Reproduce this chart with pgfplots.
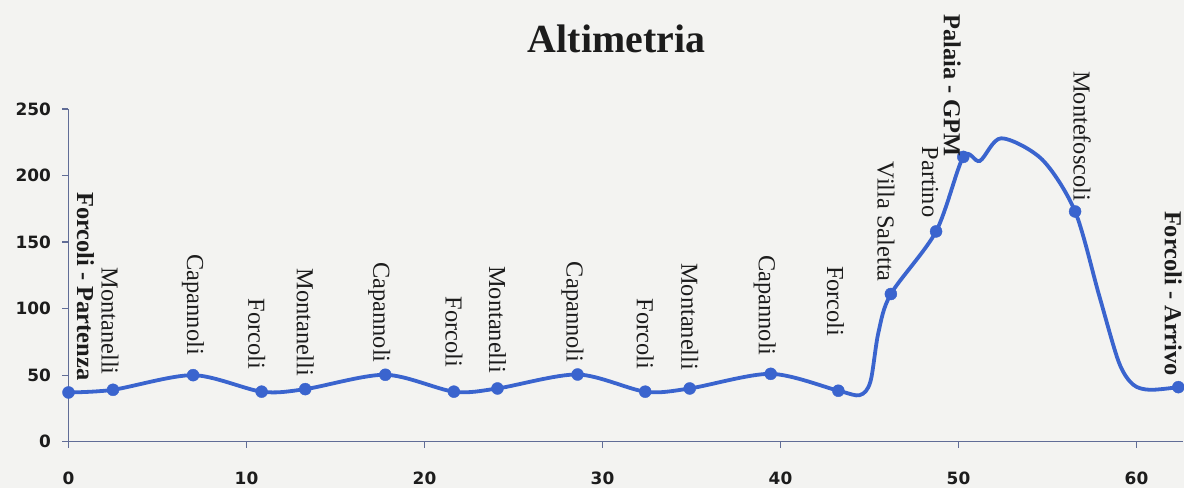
\documentclass[border=0pt]{standalone}
\usepackage{pgfplots}
\usepackage{pgfplotstable}
\pgfplotsset{compat=1.18}
\usepackage{fontspec}
\setmainfont{Liberation Serif}
\newfontfamily\tickfont{DejaVu Sans}

\definecolor{lineblue}{RGB}{58,100,206}
\definecolor{axiscol}{RGB}{96,108,150}
\definecolor{bgcol}{RGB}{243,243,241}
\definecolor{txt}{RGB}{28,28,28}

% elevation profile (km, m)
\pgfplotstableread{
x y
0 37
2.5 39
7.0 50
10.85 37.6
13.3 39.5
17.8 50.3
21.65 37.6
24.1 40
28.6 50.5
32.4 37.6
34.9 40
39.45 51
43.25 38.3
44.45 35
45.05 45
45.5 82
46.2 111
48.74 158
50.27 214
51.2 211
52.4 228
54.7 212
56.55 173
57.9 110
59.0 60
59.8 43
60.75 39
62.35 41
}\profile

% named points: dx = horizontal shift of label, gap = space below label (bp)
\pgfplotstableread[col sep=comma]{
x,y,dx,gap,label
0,37,17,12,\textbf{Forcoli - Partenza}
2.5,39,-3,15,Montanelli
7.0,50,0,20,Capannoli
10.85,37.6,-5,22,Forcoli
13.3,39.5,0,13,Montanelli
17.8,50.3,-6,12,Capannoli
21.65,37.6,0,24,Forcoli
24.1,40,0,15,Montanelli
28.6,50.5,-5,12,Capannoli
32.4,37.6,0,22,Forcoli
34.9,40,0,18,Montanelli
39.45,51,-6,18,Capannoli
43.25,38.3,-3,54,Forcoli
46.2,111,-5,12,Villa Saletta
48.74,158,-6,14,Partino
50.27,214,-11,0,\textbf{Palaia - GPM}
56.55,173,7,10,Montefoscoli
62.35,41,-5,11,\textbf{Forcoli - Arrivo}
}\stations

\begin{document}
\begin{tikzpicture}
\fill[bgcol] (-68.5bp,-46.3bp) rectangle (1115.5bp,441.7bp);
\begin{axis}[
    scale only axis,
    width=1114.3bp, height=332.7bp,
    xmin=0, xmax=62.6, ymin=0, ymax=250,
    clip=false,
    axis x line=bottom, axis y line=left,
    axis line style={-, draw=axiscol, line width=1.3bp},
    tick style={draw=axiscol, line width=1.3bp},
    tick align=outside, major tick length=6bp,
    xtick={0,10,...,60}, ytick={0,50,...,250},
    /pgf/number format/assume math mode=true,
    ticklabel style={font=\tickfont\bfseries\fontsize{17}{19}\selectfont, text=txt},
    xticklabel style={yshift=-21bp},
    yticklabel style={xshift=-8bp},
]
\addplot[smooth, tension=0.5, no markers, draw=lineblue, line width=3.8bp]
    table[x=x, y=y] {\profile};
\addplot[only marks, mark=*, mark size=6bp,
    mark options={fill=lineblue, draw=lineblue},
    point meta=explicit symbolic,
    visualization depends on={\thisrow{dx}\as\dx},
    visualization depends on={\thisrow{gap}\as\gap},
    nodes near coords,
    every node near coord/.style={xshift=\dx bp, yshift=\gap bp, rotate=-90,
        anchor=east, inner sep=0pt, text=txt,
        font=\fontsize{24.5}{26}\selectfont},
    ] table[x=x, y=y, meta=label] {\stations};
\end{axis}
\node[anchor=base, text=txt, font=\fontsize{40}{44}\selectfont\bfseries]
    at (548bp,388.7bp) {Altimetria};
\pgfresetboundingbox
\path[use as bounding box] (-68.5bp,-46.3bp) rectangle (1115.5bp,441.7bp);
\end{tikzpicture}
\end{document}
